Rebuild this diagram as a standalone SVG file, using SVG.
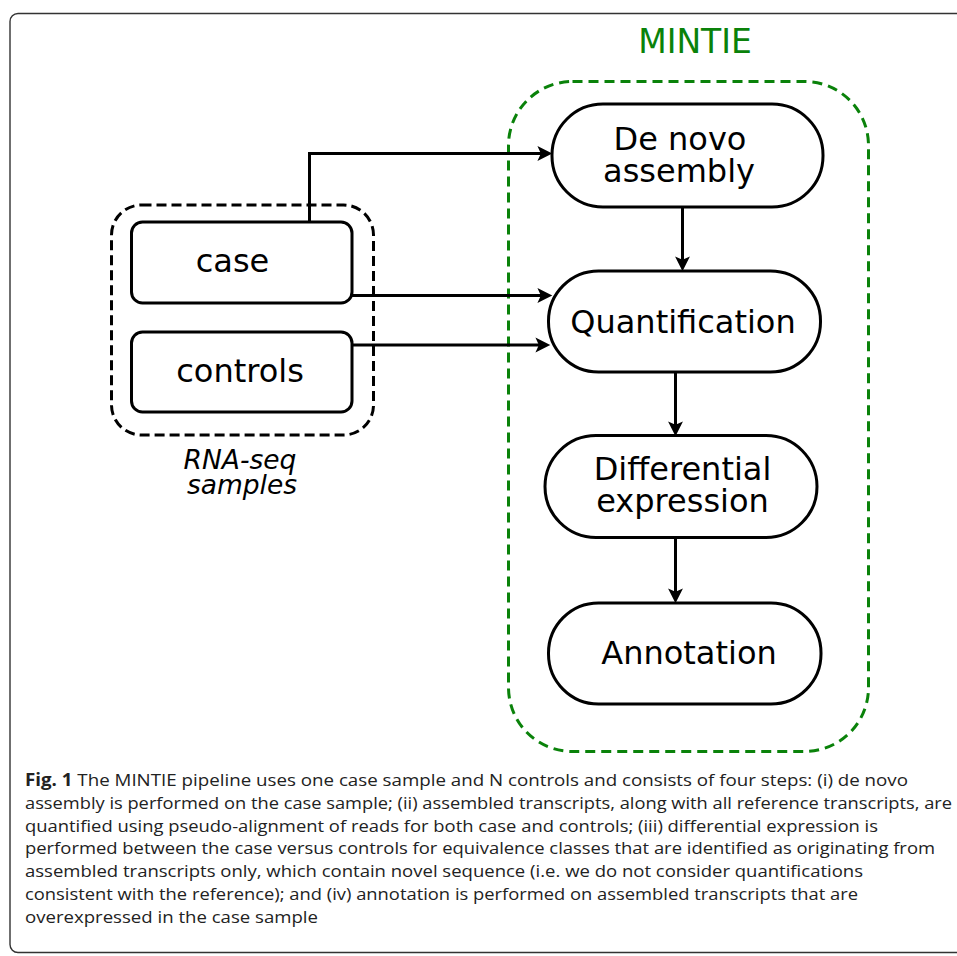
<svg xmlns="http://www.w3.org/2000/svg" width="957" height="956" viewBox="0 0 957 956">
<style>
.node{fill:#fff;stroke:#000;stroke-width:3}
.lbl{font-family:"DejaVu Sans",sans-serif;font-size:32px;fill:#000;text-anchor:middle}
.conn{fill:none;stroke:#000;stroke-width:3}
.cap{font-family:"Open Sans","Liberation Sans",sans-serif;font-size:17px;fill:#222}
</style>
<defs>
<marker id="ah" markerUnits="userSpaceOnUse" markerWidth="16" markerHeight="16" viewBox="0 -7 14 14" refX="4" refY="0" orient="auto">
<path d="M0,-6.5 L13,0 L0,6.5 L3,0 Z" fill="#000"/>
</marker>
</defs>
<rect x="10" y="13.5" width="1000" height="939" rx="8" fill="none" stroke="#333" stroke-width="1.4"/>
<g id="samples">
<rect x="111.5" y="205" width="262" height="230" rx="30" fill="none" stroke="#000" stroke-width="3" stroke-dasharray="10,5"/>
<text x="240" y="469" font-family="DejaVu Sans,sans-serif" font-style="italic" font-size="26.5" text-anchor="middle">RNA-seq</text>
<text x="242" y="494" font-family="DejaVu Sans,sans-serif" font-style="italic" font-size="26.5" text-anchor="middle">samples</text>
</g>
<g id="case">
<rect class="node" x="131.5" y="222" width="220.5" height="81" rx="11"/>
<text class="lbl" x="232.5" y="272" font-size="31">case</text>
</g>
<g id="controls">
<rect class="node" x="131.5" y="332" width="220.5" height="80" rx="11"/>
<text class="lbl" x="240" y="382" font-size="31">controls</text>
</g>
<g id="mintie">
<rect x="508.5" y="81.5" width="360" height="670" rx="64" fill="none" stroke="#0a820a" stroke-width="3" stroke-dasharray="10,6"/>
<text x="695" y="53" font-family="DejaVu Sans,sans-serif" font-size="33" fill="#0a820a" text-anchor="middle">MINTIE</text>
</g>
<g id="denovo">
<rect class="node" x="552" y="104" width="271" height="103" rx="51"/>
<text class="lbl" x="680" y="150">De novo</text>
<text class="lbl" x="679" y="181.5">assembly</text>
</g>
<g id="quant">
<rect class="node" x="548.5" y="271" width="272" height="101" rx="50"/>
<text class="lbl" x="683" y="332.5">Quantification</text>
</g>
<g id="diffexp">
<rect class="node" x="545" y="435.5" width="272" height="102" rx="51"/>
<text class="lbl" x="682.5" y="480">Differential</text>
<text class="lbl" x="682.5" y="511.5">expression</text>
</g>
<g id="annot">
<rect class="node" x="548.5" y="603" width="272.5" height="101" rx="50"/>
<text class="lbl" x="689" y="663.5">Annotation</text>
</g>
<g id="connectors">
<path class="conn" d="M309.5,222 L309.5,153.5 L542,153.5" marker-end="url(#ah)"/>
<path class="conn" d="M352,295.5 L542,295.5" marker-end="url(#ah)"/>
<path class="conn" d="M352,345 L540,345" marker-end="url(#ah)"/>
<path class="conn" d="M682.5,207 L682.5,261" marker-end="url(#ah)"/>
<path class="conn" d="M675.5,372 L675.5,426" marker-end="url(#ah)"/>
<path class="conn" d="M675.5,537.5 L675.5,593" marker-end="url(#ah)"/>
</g>
<g id="caption" class="cap">
<text x="25" y="786" textLength="883" lengthAdjust="spacingAndGlyphs"><tspan font-weight="bold">Fig. 1</tspan> The MINTIE pipeline uses one case sample and N controls and consists of four steps: (i) de novo</text>
<text x="25" y="808.8" textLength="927" lengthAdjust="spacingAndGlyphs">assembly is performed on the case sample; (ii) assembled transcripts, along with all reference transcripts, are</text>
<text x="25" y="831.6" textLength="853" lengthAdjust="spacingAndGlyphs">quantified using pseudo-alignment of reads for both case and controls; (iii) differential expression is</text>
<text x="25" y="854.4" textLength="910" lengthAdjust="spacingAndGlyphs">performed between the case versus controls for equivalence classes that are identified as originating from</text>
<text x="25" y="877.2" textLength="838" lengthAdjust="spacingAndGlyphs">assembled transcripts only, which contain novel sequence (i.e. we do not consider quantifications</text>
<text x="25" y="900" textLength="833" lengthAdjust="spacingAndGlyphs">consistent with the reference); and (iv) annotation is performed on assembled transcripts that are</text>
<text x="25" y="922.8" textLength="293" lengthAdjust="spacingAndGlyphs">overexpressed in the case sample</text>
</g>
</svg>
